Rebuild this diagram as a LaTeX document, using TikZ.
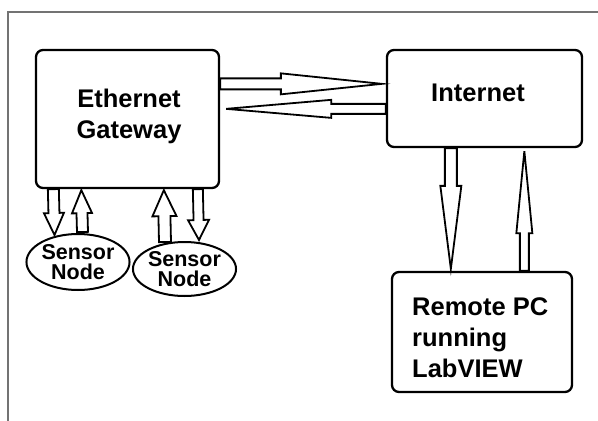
\documentclass[tikz,border=0pt]{standalone}
\usepackage{fontspec}
\setmainfont{Liberation Sans}
\usetikzlibrary{calc,shapes.geometric}
\newcommand\blkarrow[5]{%
  \draw[barrow] let \p1=(#1), \p2=(#2),
     \n1={atan2(\y2-\y1,\x2-\x1)},
     \n2={veclen(\x2-\x1,\y2-\y1)-#5}
  in ($(\p1)+(\n1+90:#3pt)$) -- ($(\p1)+(\n1:\n2)+(\n1+90:#3pt)$)
  -- ($(\p1)+(\n1:\n2)+(\n1+90:#4pt)$) -- (\p2)
  -- ($(\p1)+(\n1:\n2)+(\n1-90:#4pt)$) -- ($(\p1)+(\n1:\n2)+(\n1-90:#3pt)$)
  -- ($(\p1)+(\n1-90:#3pt)$) -- cycle;}
\begin{document}
\begin{tikzpicture}[x=1pt,y=-1pt,
  box/.style={draw, line width=2.3pt, rounded corners=7pt, inner sep=0pt},
  sens/.style={draw, ellipse, line width=2pt, inner sep=0pt, align=center,
    font=\fontsize{21.5}{19.5}\selectfont\bfseries},
  big/.style={font=\fontsize{25.5}{31}\selectfont\bfseries, inner sep=0pt},
  barrow/.style={draw, line width=1.8pt, line join=miter},
  frame/.style={draw=black!55, line width=2pt}]
\useasboundingbox (0,0) rectangle (598,421);
\draw[frame] (8,421) -- (8,12) -- (598,12);
% boxes
\node[box, minimum width=183pt, minimum height=138pt] (gw) at (127.5,119) {};
\node[big, align=center] (gwt) at (129,116) {Ethernet\\Gateway};
\node[box, minimum width=195pt, minimum height=97pt] (inet) at (484.5,98.5) {};
\node[big] (inett) at (478,93) {Internet};
\node[box, minimum width=180pt, minimum height=120pt] (pc) at (482,332) {};
\node[big, align=left, anchor=west] (pct) at (412,338) {Remote PC\\running\\LabVIEW};
\node[sens, minimum width=100pt, minimum height=56pt] (sn1) at (78,262) {Sensor\\Node};
\node[sens, minimum width=103pt, minimum height=54pt] (sn2) at (184.5,269) {Sensor\\Node};
% gateway <-> internet
\coordinate (a1s) at ($(gw.north east)+(0,35)$);
\coordinate (a1e) at ($(inet.north west)+(-4,35)$);
\blkarrow{a1s}{a1e}{5.5}{10.5}{101}
\coordinate (a2s) at ($(inet.north west)+(0,60)$);
\coordinate (a2e) at ($(gw.north east)+(6,60)$);
\blkarrow{a2s}{a2e}{5}{9}{105}
% internet <-> remote pc
\coordinate (a3s) at ($(inet.south west)+(65,0)$);
\coordinate (a3e) at ($(pc.north west)+(60,-2)$);
\blkarrow{a3s}{a3e}{6}{10.5}{83}
\coordinate (a4s) at ($(pc.north west)+(133.5,0)$);
\coordinate (a4e) at ($(inet.south west)+(138.5,3)$);
\blkarrow{a4s}{a4e}{4.5}{8}{82}
% gateway <-> sensors
\coordinate (s1s) at ($(gw.south west)+(18.5,0)$);
\coordinate (s1e) at ($(sn1.center)+(-23.5,-27)$);
\blkarrow{s1s}{s1e}{5.5}{10}{22}
\coordinate (s2s) at ($(sn1.north)+(4.5,-1)$);
\coordinate (s2e) at ($(gw.south west)+(46.5,1)$);
\blkarrow{s2s}{s2e}{5.5}{10}{23}
\coordinate (s3s) at ($(sn2.north)+(-19.5,1)$);
\coordinate (s3e) at ($(gw.south west)+(129,1)$);
\blkarrow{s3s}{s3e}{6}{12}{26}
\coordinate (s4s) at ($(gw.south west)+(163,0)$);
\coordinate (s4e) at ($(sn2.center)+(14.5,-29)$);
\blkarrow{s4s}{s4e}{5}{10.5}{20}
\end{tikzpicture}
\end{document}
